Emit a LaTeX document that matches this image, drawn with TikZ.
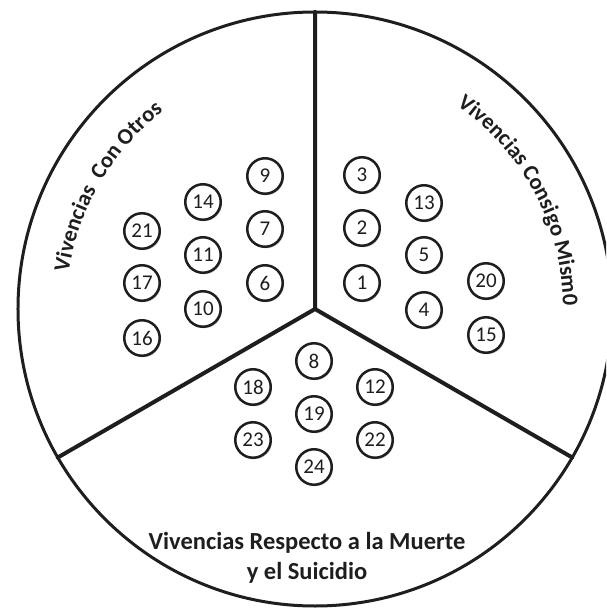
\documentclass[tikz,border=0pt]{standalone}
\usepackage{fontspec}
\setmainfont{Carlito}
\usetikzlibrary{decorations.text,shadows}
\definecolor{ink}{RGB}{30,30,30}
\newcommand\lblfont{\fontsize{24.5}{30}\selectfont\bfseries}
\newcommand\arcfont{\fontsize{22.5}{27}\selectfont\bfseries}
\tikzset{
  num/.style={circle, draw=ink, line width=2.5pt, fill=white, minimum size=35.5pt,
    inner sep=0pt, font=\fontsize{21}{21}\selectfont, text=ink,
    drop shadow={shadow xshift=1.2pt, shadow yshift=-1.5pt, opacity=0.25, fill=black}},
  divider/.style={draw=ink, line width=4pt, line cap=round, line join=round},
  rim/.style={draw=ink, line width=3pt},
  arclabel/.style={decorate, decoration={text along path, text align=center, text color=ink, text={#1}}},
}
\begin{document}
\begin{tikzpicture}[x=1pt,y=1pt]
\useasboundingbox (-315,-300) rectangle (291,309);
\clip (-315,-300) rectangle (291,309);
\coordinate (c) at (0,0);
\coordinate (top) at (90:297);
\coordinate (ll) at (210:297);
\coordinate (lr) at (330:297);
\draw[rim] (c) circle[radius=297];
\draw[divider] (top) -- (c) -- (ll);
\draw[divider] (c) -- (lr);
% curved labels
\path[arclabel={|\arcfont|Vivencias {\ }Con Otros}] (209.5:249) arc[start angle=209.5, end angle=89.5, radius=249];
\path[arclabel={|\arcfont|Vivencias Consigo Mism0}] (88:248) arc[start angle=88, end angle=-32, radius=248];
% bottom label
\node[font=\lblfont, align=center, text=ink, inner sep=0pt] (bottom) at (-8,-249) {Vivencias Respecto a la Muerte\\y el Suicidio};
% left sector
\node[num] (n9) at (-50,133) {9};
\node[num] (n14) at (-112,107) {14};
\node[num] (n7) at (-50,80) {7};
\node[num] (n21) at (-173,78) {21};
\node[num] (n11) at (-112,54) {11};
\node[num] (n6) at (-50,26) {6};
\node[num] (n17) at (-173,26) {17};
\node[num] (n10) at (-112,0) {10};
\node[num] (n16) at (-173,-29) {16};
% right sector
\node[num] (n3) at (47,134) {3};
\node[num] (n13) at (109,106) {13};
\node[num] (n2) at (47,81) {2};
\node[num] (n5) at (109,54) {5};
\node[num] (n1) at (47,26) {1};
\node[num] (n20) at (171,28) {20};
\node[num] (n4) at (109,-1) {4};
\node[num] (n15) at (171,-26) {15};
% bottom sector
\node[num] (n8) at (-1,-52) {8};
\node[num] (n18) at (-62,-78) {18};
\node[num] (n12) at (60,-78) {12};
\node[num] (n19) at (-1,-105) {19};
\node[num] (n23) at (-62,-131) {23};
\node[num] (n22) at (60,-131) {22};
\node[num] (n24) at (-1,-158) {24};
\end{tikzpicture}
\end{document}
